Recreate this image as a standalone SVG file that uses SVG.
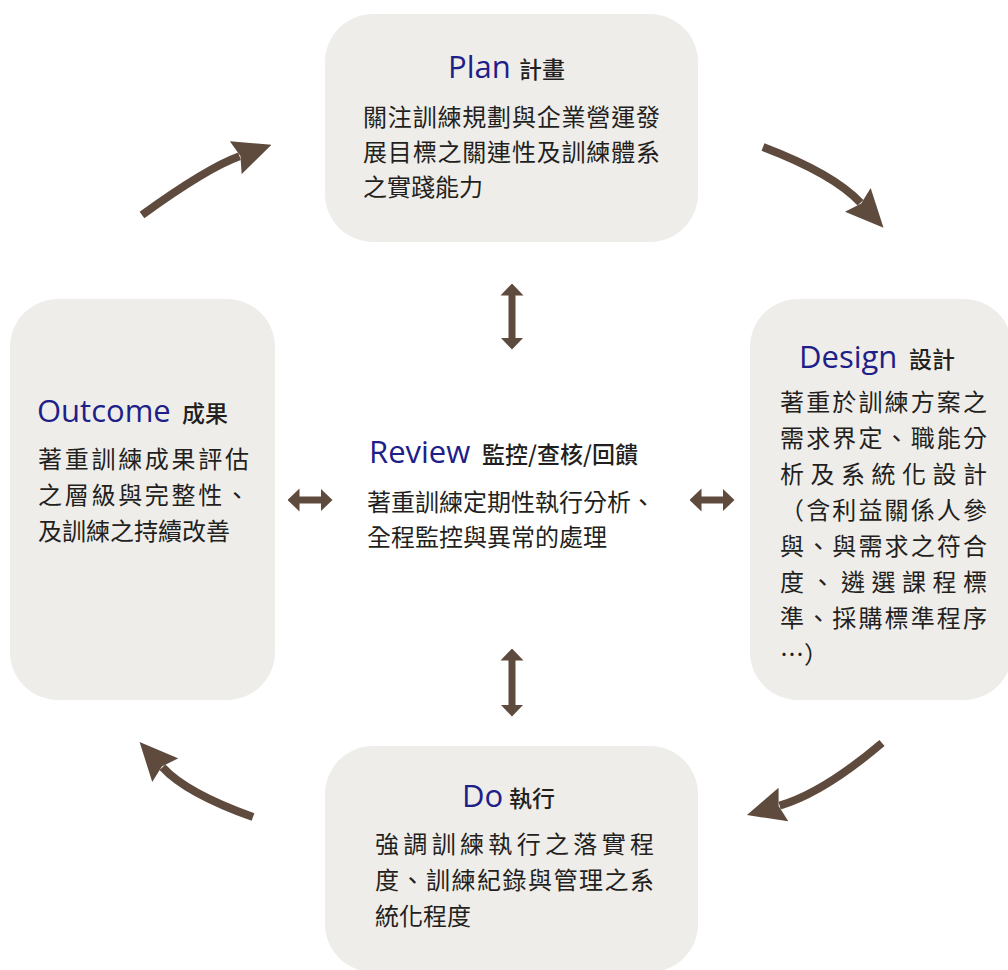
<svg xmlns="http://www.w3.org/2000/svg" width="1008" height="970" viewBox="0 0 1008 970">
<style>
.box{fill:#efedea;}
.en{font-family:"Open Sans","Liberation Sans",sans-serif;font-size:31px;fill:#1d2088;}
.zt{font-family:"Noto Sans CJK TC","Noto Sans CJK SC",sans-serif;font-size:23px;font-weight:500;fill:#231f20;}
.tx{font-family:"Noto Sans CJK TC","Noto Sans CJK SC",sans-serif;font-size:24px;fill:#231f20;}
.cv{fill:none;stroke:#5f4b3e;stroke-width:8;marker-end:url(#bigHead);}
.dbl{fill:none;stroke:#5f4b3e;stroke-width:7;marker-start:url(#smallHead);marker-end:url(#smallHead);}
</style>
<defs>
<marker id="bigHead" markerUnits="userSpaceOnUse" viewBox="0 -18 38 36" markerWidth="38" markerHeight="36" refX="4" refY="0" orient="auto">
<path d="M0,-17.5 L38,0 L0,17.5 L5,0 z" fill="#5f4b3e"/>
</marker>
<marker id="smallHead" markerUnits="userSpaceOnUse" viewBox="0 -12 12 24" markerWidth="12" markerHeight="24" refX="0.5" refY="0" orient="auto-start-reverse">
<path d="M0,-11.5 L12,0 L0,11.5 z" fill="#5f4b3e"/>
</marker>
</defs>
<rect width="1008" height="970" fill="#ffffff"/>

<g id="plan">
<rect class="box" x="325" y="14" width="373" height="228" rx="48"/>
<text class="en" x="448" y="78">Plan</text>
<text class="zt" x="519" y="78">計畫</text>
<text class="tx" x="363" y="126" textLength="297" lengthAdjust="spacing">關注訓練規劃與企業營運發</text>
<text class="tx" x="363" y="161" textLength="297" lengthAdjust="spacing">展目標之關連性及訓練體系</text>
<text class="tx" x="363" y="196">之實踐能力</text>
</g>

<g id="design">
<rect class="box" x="750" y="299" width="262" height="401" rx="48"/>
<text class="en" x="799" y="368">Design</text>
<text class="zt" x="909" y="368">設計</text>
<text class="tx" x="780" y="411" textLength="207" lengthAdjust="spacing">著重於訓練方案之</text>
<text class="tx" x="780" y="447" textLength="207" lengthAdjust="spacing">需求界定、職能分</text>
<text class="tx" x="780" y="483" textLength="207" lengthAdjust="spacing">析及系統化設計</text>
<text class="tx" x="780" y="519" textLength="207" lengthAdjust="spacing">（含利益關係人參</text>
<text class="tx" x="780" y="555" textLength="207" lengthAdjust="spacing">與、與需求之符合</text>
<text class="tx" x="780" y="591" textLength="207" lengthAdjust="spacing">度、遴選課程標</text>
<text class="tx" x="780" y="627" textLength="207" lengthAdjust="spacing">準、採購標準程序</text>
<text class="tx" x="780" y="663">…）</text>
</g>

<g id="outcome">
<rect class="box" x="10" y="299" width="265" height="401" rx="48"/>
<text class="en" x="37" y="422">Outcome</text>
<text class="zt" x="182" y="422">成果</text>
<text class="tx" x="38" y="468" textLength="211" lengthAdjust="spacing">著重訓練成果評估</text>
<text class="tx" x="38" y="504" textLength="211" lengthAdjust="spacing">之層級與完整性、</text>
<text class="tx" x="38" y="540">及訓練之持續改善</text>
</g>

<g id="review">
<text class="en" x="369" y="463">Review</text>
<text class="zt" x="482" y="463">監控/查核/回饋</text>
<text class="tx" x="367" y="511">著重訓練定期性執行分析、</text>
<text class="tx" x="367" y="546">全程監控與異常的處理</text>
</g>

<g id="do">
<rect class="box" x="325" y="746" width="373" height="226" rx="48"/>
<text class="en" x="462" y="807">Do</text>
<text class="zt" x="509" y="807">執行</text>
<text class="tx" x="375" y="853" textLength="279" lengthAdjust="spacing">強調訓練執行之落實程</text>
<text class="tx" x="375" y="889" textLength="279" lengthAdjust="spacing">度、訓練紀錄與管理之系</text>
<text class="tx" x="375" y="925">統化程度</text>
</g>

<g id="connectors">
<path class="cv" d="M142,215 Q207,168 239.5,156.3"/>
<path class="cv" d="M763,147 Q834,174 860.5,202.8"/>
<path class="cv" d="M882,743 Q823,793 779.6,805.6"/>
<path class="cv" d="M253,817 Q186,793 162.5,767.2"/>
<path class="dbl" d="M512,295 L512,338"/>
<path class="dbl" d="M512,660 L512,705"/>
<path class="dbl" d="M299,500 L321,500"/>
<path class="dbl" d="M701,500 L723,500"/>
</g>
</svg>
